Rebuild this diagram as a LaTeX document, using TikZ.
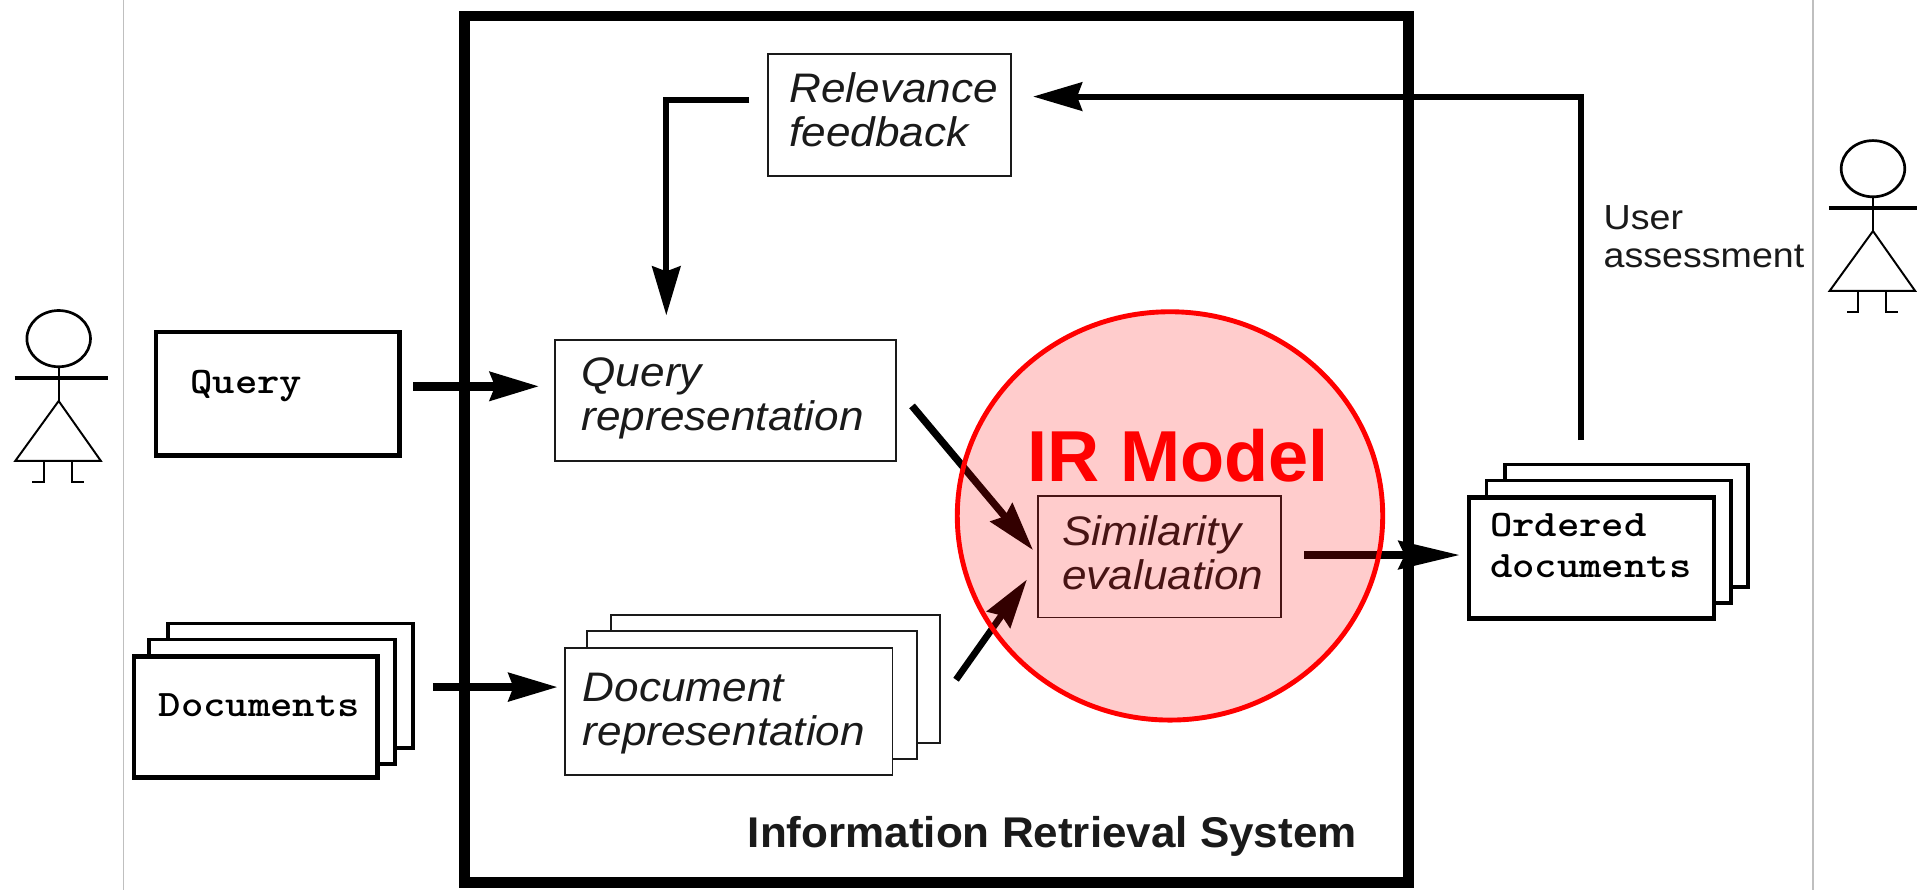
\documentclass[tikz,border=0pt]{standalone}
\usepackage{fontspec}
\setmainfont{Liberation Sans}
\usetikzlibrary{arrows.meta,shapes.geometric}
\definecolor{inkc}{HTML}{1A1A1A}
\tikzset{
  x=0.1mm,y=-0.1mm,
  boxshape/.style={draw=black,fill=white,rectangle,inner sep=0pt,outer sep=0pt},
  thinbox/.style={boxshape,draw=inkc,line width=0.14mm},
  thickbox/.style={boxshape,line width=0.38mm},
  midbox/.style={boxshape,line width=0.3mm},
  framebox/.style={draw=black,rectangle,inner sep=0pt,line width=0.85mm},
  repfont/.style={font=\fontsize{9.6pt}{10.25pt}\selectfont\itshape,text=inkc,xscale=1.07,transform shape,align=left,anchor=base west,inner sep=0pt},
  monofont/.style={font=\fontsize{8.7pt}{9.4pt}\selectfont\ttfamily\bfseries,xscale=1.14,transform shape,align=left,anchor=base west,inner sep=0pt},
  userfont/.style={font=\fontsize{8.1pt}{8.8pt}\selectfont,text=inkc,xscale=1.08,transform shape,align=left,anchor=base west,inner sep=0pt},
  conn/.style={draw=black,line cap=butt,line join=miter,line width=#1,-{Stealth[length=4mm,width=2.3mm,inset=0.4mm]}},
  longconn/.style={draw=black,line cap=butt,line join=miter,line width=#1,-{Stealth[length=5mm,width=2.3mm,inset=0.5mm]}},
  stick/.style={draw=black,line width=0.16mm},
  arm/.style={draw=black,line width=0.3mm},
  divider/.style={draw=black!25,line width=0.12mm},
}
\newcommand{\bx}[6]{\node[#2,minimum width={(#5-#3)*0.1mm},minimum height={(#6-#4)*0.1mm}] (#1) at ({(#3+#5)/2},{(#4+#6)/2}) {};}
\newcommand{\person}[3]{%
  \begin{scope}[shift={(#2,#3)}]
    \node[draw=black,line width=0.22mm,ellipse,minimum width=5.2mm,minimum height=4.6mm,inner sep=0pt] (#1head) at (48,277) {};
    \coordinate (#1neck) at (48,328);
    \coordinate (#1armL) at (12,309);
    \coordinate (#1armR) at (88,309);
    \coordinate (#1hemL) at (12.5,377);
    \coordinate (#1hemR) at (82.5,377);
    \coordinate (#1legL) at (36,377);
    \coordinate (#1legR) at (59,377);
    \coordinate (#1kneeL) at (36,394.5);
    \coordinate (#1kneeR) at (59,394.5);
    \coordinate (#1footL) at (26.5,394.5);
    \coordinate (#1footR) at (68.5,394.5);
    \draw[stick] (#1head.south) -- (#1neck);
    \draw[arm] (#1armL) -- (#1armR);
    \draw[stick] (#1neck) -- (#1hemL) -- (#1hemR) -- cycle;
    \draw[stick] (#1legL) -- (#1kneeL) -- (#1footL);
    \draw[stick] (#1legR) -- (#1kneeR) -- (#1footR);
  \end{scope}}
\begin{document}
\begin{tikzpicture}
\useasboundingbox (0,0) rectangle (1568,728);
\fill[white] (0,0) rectangle (1568,728);
% dividers
\coordinate (dLt) at (101,0); \coordinate (dLb) at (101,728);
\coordinate (dRt) at (1483,0); \coordinate (dRb) at (1483,728);
\draw[divider] (dLt) -- (dLb);
\draw[divider] (dRt) -- (dRb);
% people
\person{pa}{0}{0}
\person{pb}{1484}{-139}
% frame
\bx{frame}{framebox}{380}{13}{1152}{722}
% boxes
\bx{rel}{thinbox}{628}{44}{827}{144}
\bx{qrep}{thinbox}{454}{278}{733}{377}
\bx{query}{thickbox}{127.5}{271.5}{327}{372.5}
\bx{d3}{midbox}{137.5}{510}{338}{612}
\bx{d2}{midbox}{122}{523}{323}{625}
\bx{d1}{thickbox}{109.5}{537}{309}{636}
\bx{r3}{thinbox}{500}{503}{769}{608}
\bx{r2}{thinbox}{480}{516}{750}{621}
\bx{r1}{thinbox}{462}{530}{730}{634}
\bx{sim}{thinbox}{849}{406}{1048}{505}
\bx{o3}{midbox}{1231}{380}{1430}{480}
\bx{o2}{midbox}{1216}{393}{1416}{493}
\bx{o1}{thickbox}{1201.5}{407}{1402}{506}
% labels
\node[repfont] (trel) at (645,120) {Relevance\\feedback};
\node[repfont] (tqrep) at (475,352) {Query\\representation};
\node[repfont] (trrep) at (476,610) {Document\\representation};
\node[repfont] (tsim) at (868,482) {Similarity\\evaluation};
\node[monofont] (tq) at (155,322) {Query};
\node[monofont] (td) at (129,586) {Documents};
\node[monofont] (to) at (1218,472) {Ordered\\documents};
\node[userfont] (tu) at (1311,219) {User\\assessment};
\node[font=\fontsize{10pt}{12pt}\selectfont\bfseries,text=inkc,xscale=1.024,transform shape,anchor=base west,inner sep=0pt] (tirs) at (611,693) {Information Retrieval System};
% connector ends
\coordinate (a1s) at (338,316); \coordinate (a1e) at (441,316);
\coordinate (a2s) at (354,562); \coordinate (a2e) at (456,562);
\coordinate (a3s) at (1067,454); \coordinate (a3e) at (1194,454);
\coordinate (a4s) at (613,82); \coordinate (a4m) at (545,82); \coordinate (a4e) at (545,258);
\coordinate (a5s) at (1293,360); \coordinate (a5m) at (1293,79); \coordinate (a5e) at (845,79);
\coordinate (a6s) at (746,332); \coordinate (a6e) at (845,450);
\coordinate (a7s) at (782,556); \coordinate (a7e) at (840,474);
\draw[conn=0.7mm] (a1s) -- (a1e);
\draw[conn=0.6mm] (a2s) -- (a2e);
\draw[longconn=0.6mm] (a3s) -- (a3e);
\draw[conn=0.5mm] (a4s) -- (a4m) -- (a4e);
\draw[conn=0.5mm] (a5s) -- (a5m) -- (a5e);
\draw[conn=0.6mm] (a6s) -- (a6e);
\draw[conn=0.55mm] (a7s) -- (a7e);
% IR model
\fill[red,opacity=0.2] (957,422) ellipse [x radius=174,y radius=167];
\node[draw=red,line width=0.4mm,ellipse,minimum width=34.8mm,minimum height=33.4mm,inner sep=0pt] (ir) at (957,422) {};
\node[font=\fontsize{16.8pt}{20pt}\selectfont\bfseries,text=red,anchor=base west,inner sep=0pt] (tir) at (840,394) {IR Model};
\end{tikzpicture}
\end{document}
